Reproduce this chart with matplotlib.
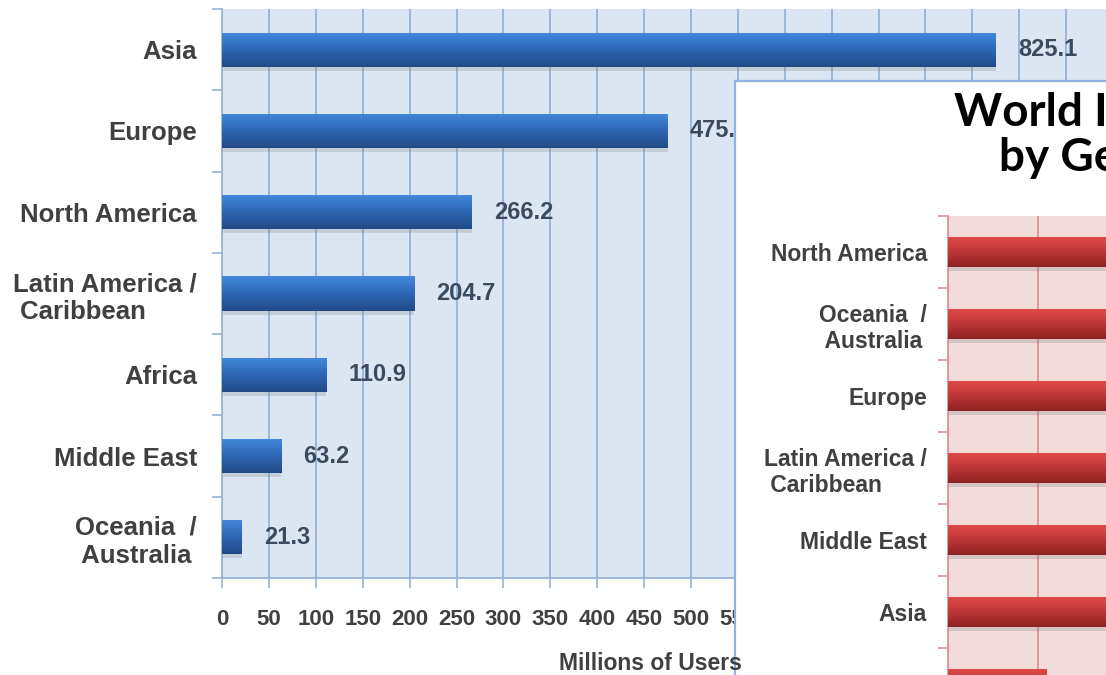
import numpy as np
import matplotlib
matplotlib.use('Agg')
import matplotlib.pyplot as plt
from matplotlib.colors import LinearSegmentedColormap

# internet users by region (millions)
regions = ['Asia', 'Europe', 'North America', 'Latin America /\n Caribbean',
           'Africa', 'Middle East', 'Oceania  /\n Australia']
users = [825.1, 475.1, 266.2, 204.7, 110.9, 63.2, 21.3]
user_ticks = np.arange(0, 551, 50)

# penetration rate by region (% of population)
pen_regions = ['North America', 'Oceania  /\n Australia', 'Europe',
               'Latin America /\n Caribbean', 'Middle East', 'Asia', 'Africa']
penetration = [77.4, 61.3, 58.4, 34.5, 29.8, 21.5, 10.9]

W, H = 1106, 675
LABEL_FONT = 'Liberation Sans'

blue_cmap = LinearSegmentedColormap.from_list('b', ['#4389db', '#2e66b4', '#214b86'])
red_cmap = LinearSegmentedColormap.from_list('r', ['#e24b49', '#bd3636', '#8c2322'])


def px_box(left, top, right, bottom):
    return [left / W, 1 - bottom / H, (right - left) / W, (bottom - top) / H]


def gradient_bars(ax, values, cmap, shadow_dy, height=0.42):
    ypos = np.arange(len(values))
    # soft shadow under each bar
    ax.barh(ypos + shadow_dy, values, height=height, color='#7f7f7f', alpha=0.25,
            zorder=2, linewidth=0)
    bars = ax.barh(ypos, values, height=height, color=cmap(0.5), zorder=3, linewidth=0)
    grad = np.linspace(0, 1, 64).reshape(-1, 1)
    for b, y, v in zip(bars, ypos, values):
        im = ax.imshow(grad, cmap=cmap, aspect='auto', origin='upper',
                       extent=(0, v, y + height / 2, y - height / 2), zorder=4,
                       interpolation='bilinear')
        im.set_clip_path(b)
    return bars


def style_cats(ax, labels, grid_col, bg, size, pad):
    n = len(labels)
    ax.set_facecolor(bg)
    ax.set_ylim(n - 0.5, -0.5)
    ax.set_yticks(np.arange(n))
    ax.set_yticklabels(labels)
    ax.set_yticks(np.arange(n + 1) - 0.5, minor=True)
    ax.tick_params(axis='y', which='major', length=0, pad=pad)
    ax.tick_params(axis='y', which='minor', length=7, width=1.2, color=grid_col,
                   direction='out')
    for t in ax.get_yticklabels():
        t.set_fontfamily(LABEL_FONT)
        t.set_fontweight('bold')
        t.set_fontsize(size)
        t.set_color('#404040')
        t.set_multialignment('left')
    ax.grid(axis='x', color=grid_col, linewidth=1.3)
    ax.set_axisbelow(True)
    for s in ['top', 'right']:
        ax.spines[s].set_visible(False)
    for s in ['left', 'bottom']:
        ax.spines[s].set_color(grid_col)
        ax.spines[s].set_linewidth(1.3)


fig = plt.figure(figsize=(W / 100, H / 100), dpi=100)

# main chart: users
ax = fig.add_axes(px_box(222, 9, 222 + 950 * 0.938, 578), zorder=0)
gradient_bars(ax, users, blue_cmap, 0.05)
style_cats(ax, regions, '#95b3d7', '#dce6f2', 18.5, 18)
ax.set_xlim(0, 950)
ax.set_xticks(np.arange(0, 951, 50))
ax.set_xticklabels([str(t) if t in user_ticks else '' for t in np.arange(0, 951, 50)])
ax.tick_params(axis='x', length=7, width=1.2, color='#95b3d7', pad=15,
               labelsize=16, labelcolor='#404040')
for t in ax.get_xticklabels():
    t.set_fontfamily(LABEL_FONT)
    t.set_fontweight('bold')
for i, v in enumerate(users):
    ax.annotate(f'{v}', xy=(v, i), xytext=(16, 0), textcoords='offset points',
                va='center', ha='left', fontsize=17, fontweight='bold',
                family=LABEL_FONT, color='#3a4a5f', zorder=5)
fig.text(650 / W, 1 - 663 / H, 'Millions of Users', ha='center', va='center',
         fontsize=16.5, fontweight='bold', family=LABEL_FONT, color='#404040')

# overlaid panel: penetration rates
panel = fig.add_axes(px_box(735, 81, W + 40, H + 40), zorder=1)
panel.set_facecolor('white')
panel.set_xticks([])
panel.set_yticks([])
for s in panel.spines.values():
    s.set_color('#8eb4e3')
    s.set_linewidth(1.6)

fig.text(1234 / W, 1 - 92 / H, 'World Internet Penetration\nby Geographic Regions',
         ha='center', va='top', fontsize=33, fontweight='bold', family='Lato',
         color='black', linespacing=1.08, zorder=5)

rax = fig.add_axes(px_box(948, 216, 948 + 810, 720), zorder=2)
gradient_bars(rax, penetration, red_cmap, 0.06)
style_cats(rax, pen_regions, '#d99694', '#f2dcdb', 16.5, 15)
rax.set_xlim(0, 90)
rax.set_xticks(np.arange(0, 91, 10))
rax.tick_params(axis='x', labelbottom=False, length=0)

fig.savefig('out.png', dpi=100)
